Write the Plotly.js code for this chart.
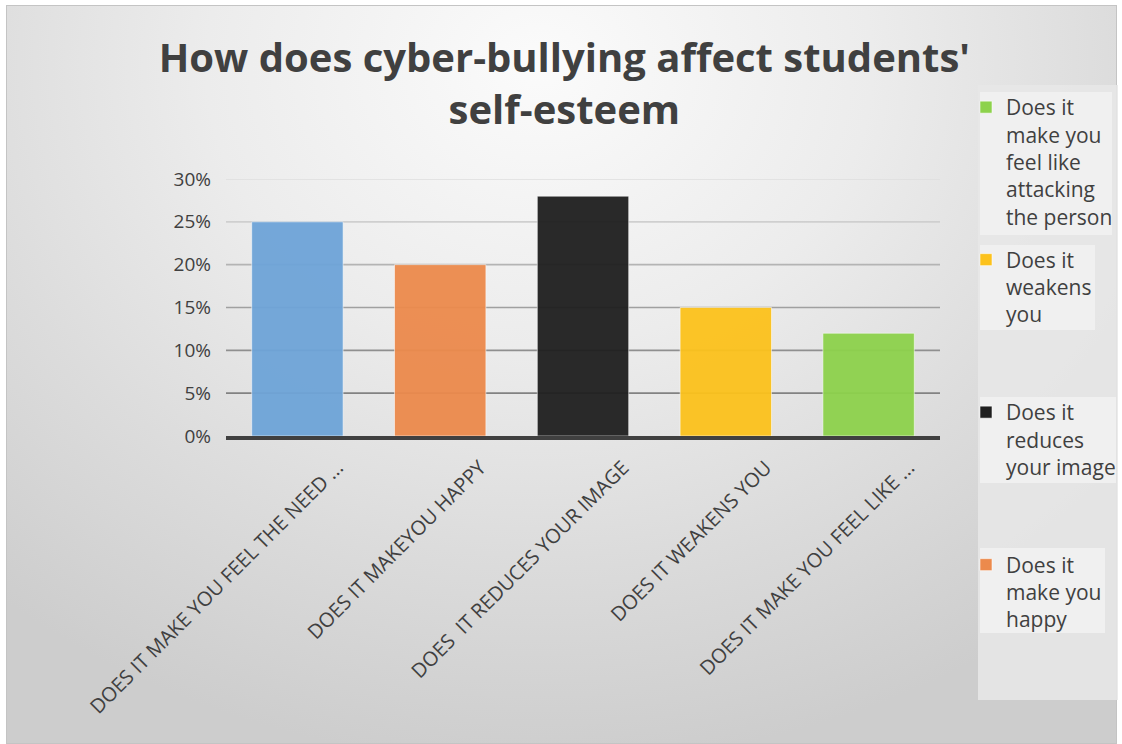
<!DOCTYPE html>
<html>
<head>
<meta charset="utf-8">
<script src="https://cdn.plot.ly/plotly-3.0.1.min.js"></script>
<style>
  html, body { margin: 0; padding: 0; background: #ffffff; }
  #frame {
    position: absolute; left: 6px; top: 5px; width: 1111px; height: 739px;
    border: 1px solid #c4c4c4; box-sizing: border-box;
    background: radial-gradient(ellipse 75% 95% at 48% 8%, #fbfbfb 0%, #ececec 40%, #dcdcdc 70%, #cdcdcd 100%);
  }
  #chart { position: absolute; left: 0; top: 0; width: 1122px; height: 744px; }
</style>
</head>
<body>
<div id="frame"></div>
<div id="chart"></div>
<script>
// ---- data ----
const categories = [
  "DOES IT MAKE YOU FEEL THE NEED ...",
  "DOES IT MAKEYOU HAPPY",
  "DOES\u00a0 IT REDUCES YOUR IMAGE",
  "DOES IT WEAKENS YOU",
  "DOES IT MAKE YOU FEEL LIKE ..."
];
const values = [0.25, 0.20, 0.28, 0.15, 0.12];
const seriesNames = [
  "Does it make you feel the need",
  "Does it<br>make you<br>happy",
  "Does it<br>reduces<br>your image",
  "Does it<br>weakens<br>you",
  "Does it<br>make you<br>feel like<br>attacking<br>the person"
];
const inLegend = [false, true, true, true, true];
const yTickVals = [0, 0.05, 0.10, 0.15, 0.20, 0.25, 0.30];
const yTickText = ["0%", "5%", "10%", "15%", "20%", "25%", "30%"];

// ---- styles ----
const barColors = ["#6ea4d8", "#ec8a4c", "#1f1f1f", "#fcc21c", "#8dd24c"];
const gridColors = [null, "#828282", "#8f8f8f", "#a0a0a0", "#b4b4b4", "#cfcfcf", "#dedede"];
const textColor = "#404040";

function padLines(s, n) {
  const k = s.split("<br>").length;
  let out = s;
  for (let i = k; i < n; i++) out += "<br>\u00a0";
  return out;
}

const traces = categories.map((c, i) => ({
  type: "bar",
  x: [c],
  y: [values[i]],
  name: padLines(seriesNames[i], 5),
  showlegend: inLegend[i],
  legendgroup: "g" + i,
  legendrank: 10 - i,
  marker: { color: barColors[i], opacity: 0.95, line: { width: 1, color: "rgba(255,255,255,0.55)" } },
  hoverinfo: "x+y"
}));

// pixel helpers for legend panel decoration (paper coords of plot area 226..940 x 179..436)
const PL = 226, PW = 714, PB = 436, PH = 257;
const px = v => (v - PL) / PW;
const py = v => (PB - v) / PH;
function box(x0, y0, x1, y1, color) {
  return { type: "rect", xref: "paper", yref: "paper", x0: px(x0), x1: px(x1), y0: py(y1), y1: py(y0),
           fillcolor: color, line: { width: 0 }, layer: "above" };
}

const shapes = [];
yTickVals.forEach((v, i) => {
  if (i === 0) return;
  shapes.push({ type: "line", xref: "paper", x0: 0, x1: 1, yref: "y", y0: v, y1: v,
                line: { color: gridColors[i], width: 1.6 }, layer: "below" });
});
shapes.push(box(978, 85, 1118, 700, "rgba(232,232,232,0.85)"));
shapes.push(box(980, 92, 1112, 235, "rgba(240,240,240,1)"));
shapes.push(box(980, 245, 1095, 330, "rgba(240,240,240,1)"));
shapes.push(box(980, 397, 1116, 483, "rgba(240,240,240,1)"));
shapes.push(box(980, 548, 1105, 633, "rgba(240,240,240,1)"));

const layout = {
  width: 1122, height: 744,
  paper_bgcolor: "rgba(0,0,0,0)",
  plot_bgcolor: "rgba(0,0,0,0)",
  margin: { l: 226, r: 182, t: 179, b: 308, pad: 0, autoexpand: false },
  barmode: "overlay",
  bargap: 0.36,
  font: { family: "Open Sans, sans-serif", color: textColor },
  title: {
    text: "How does cyber-bullying affect students'<br>self-esteem",
    font: { family: "Open Sans, sans-serif", size: 40, color: "#404040", weight: "bold" },
    x: 0.503, xanchor: "center",
    y: 0.903, yanchor: "top"
  },
  xaxis: {
    type: "category",
    categoryorder: "array", categoryarray: categories,
    tickangle: -45,
    tickfont: { size: 20, color: textColor },
    showgrid: false,
    showline: true, linecolor: "#404040", linewidth: 4,
    ticks: "", ticklabelstandoff: 8, ticklabelshift: 40,
    fixedrange: true
  },
  yaxis: {
    range: [0, 0.30],
    tickvals: yTickVals,
    ticktext: yTickText,
    tickfont: { size: 19, color: textColor },
    showgrid: false,
    zeroline: false,
    showline: false,
    ticks: "", ticklabelstandoff: 14,
    fixedrange: true
  },
  shapes: shapes,
  legend: {
    x: px(966), xanchor: "left",
    y: py(87), yanchor: "top",
    traceorder: "grouped",
    tracegroupgap: 13,
    valign: "top",
    bgcolor: "rgba(0,0,0,0)",
    borderwidth: 0,
    font: { size: 21, color: textColor, family: "Open Sans, sans-serif" },
    itemwidth: 30,
    maxheight: 1
  }
};

Plotly.newPlot("chart", traces, layout, { displayModeBar: false, staticPlot: true });
</script>
</body>
</html>
